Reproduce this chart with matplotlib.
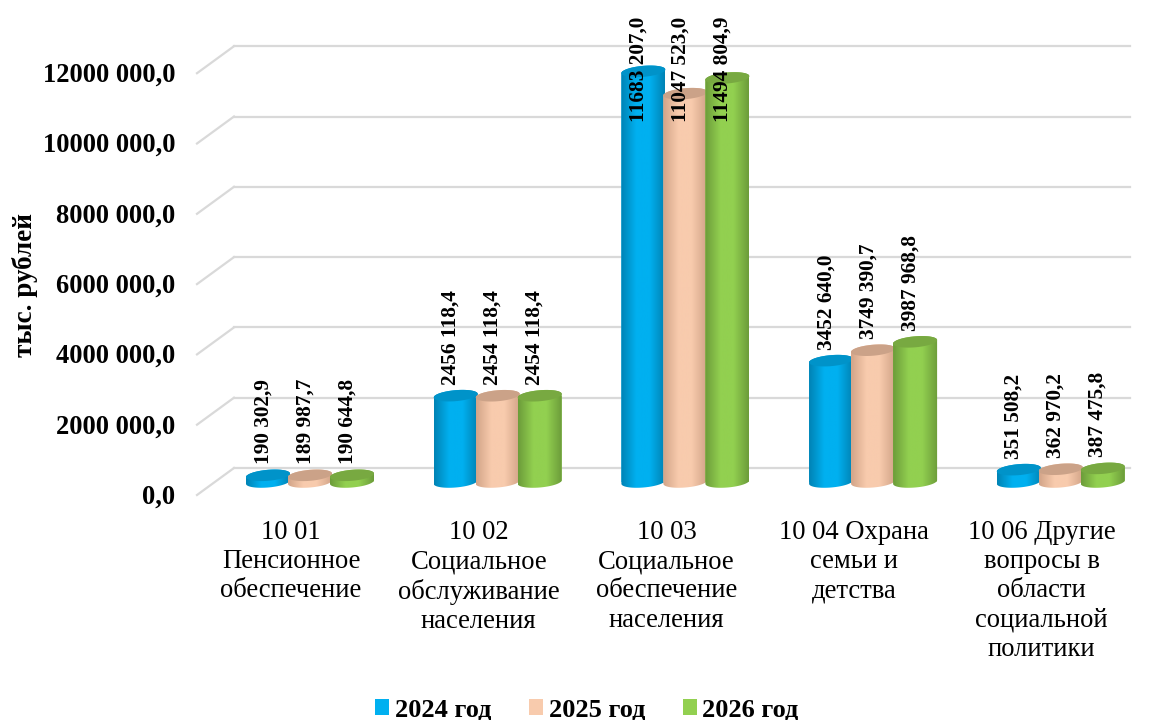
import numpy as np
import matplotlib
matplotlib.use("Agg")
import matplotlib.pyplot as plt
from matplotlib.colors import LinearSegmentedColormap
from matplotlib.patches import Patch, PathPatch, Polygon
from matplotlib.path import Path
from matplotlib.transforms import Affine2D

plt.rcParams["font.family"] = ["Liberation Serif", "DejaVu Serif"]

# Data
categories = [
    "10 01\nПенсионное\nобеспечение",
    "10 02\nСоциальное\nобслуживание\nнаселения",
    "10 03\nСоциальное\nобеспечение\nнаселения",
    "10 04 Охрана\nсемьи и\nдетства",
    "10 06 Другие\nвопросы в\nобласти\nсоциальной\nполитики",
]
years = ["2024 год", "2025 год", "2026 год"]
values_2024 = [190302.9, 2456118.4, 11683207.0, 3452640.0, 351508.2]
values_2025 = [189987.7, 2454118.4, 11047523.0, 3749390.7, 362970.2]
values_2026 = [190644.8, 2454118.4, 11494804.9, 3987968.8, 387475.8]
labels_2024 = ["190 302,9", "2456 118,4", "11683 207,0", "3452 640,0", "351 508,2"]
labels_2025 = ["189 987,7", "2454 118,4", "11047 523,0", "3749 390,7", "362 970,2"]
labels_2026 = ["190 644,8", "2454 118,4", "11494 804,9", "3987 968,8", "387 475,8"]
y_ticks = [0, 2000000, 4000000, 6000000, 8000000, 10000000, 12000000]
y_tick_labels = ["0,0", "2000 000,0", "4000 000,0", "6000 000,0", "8000 000,0",
                 "10000 000,0", "12000 000,0"]

# Colours: middle of the cylinder, its sides, its top
colors = ["#00B0F0", "#F8CBAD", "#92D050"]
edge_colors = ["#0083B4", "#D2A488", "#6C9C3A"]
top_colors = ["#0093C9", "#CBA288", "#78A941"]

W, H = 1163, 720
fig = plt.figure(figsize=(W / 100, H / 100), dpi=100)

# axes laid out so 0 sits at the bar bases and groups are 187.7 px apart
group_px = 187.7
y_px_per_unit = 35.15e-6
y_min, y_max = -500000, 13500000
ax_left = 310 - group_px / 2
ax_h = (y_max - y_min) * y_px_per_unit
ax_bottom = H - 482 + y_min * y_px_per_unit
ax = fig.add_axes([ax_left / W, ax_bottom / H, 5 * group_px / W, ax_h / H])
ax.set_xlim(-0.5, 4.5)
ax.set_ylim(y_min, y_max)
ax.patch.set_visible(False)
for s in ax.spines.values():
    s.set_visible(False)
ax.set_autoscale_on(False)


def x_frac(px):
    return (px - ax_left) / (5 * group_px)


# back wall gridlines and the diagonal down to the front edge
yaxis_tr = ax.get_yaxis_transform()
back_tr = yaxis_tr + Affine2D().translate(0, 14)
front_tr = yaxis_tr + Affine2D().translate(0, -13)
grid_color = "#D9D9D9"
for v in y_ticks:
    ax.plot([x_frac(234), x_frac(1130)], [v, v], color=grid_color, lw=1.6,
            transform=back_tr, clip_on=False, zorder=1)
    p0 = back_tr.transform((x_frac(234), v))
    p1 = front_tr.transform((x_frac(197), v))
    ax.plot([p0[0], p1[0]], [p0[1], p1[1]], color=grid_color, lw=1.6,
            transform=None, clip_on=False, zorder=1)

# cylinders
bar_w = 44 / group_px
offsets = [-42 / group_px, 0, 42 / group_px]
ry = 5.5 / y_px_per_unit
tilt = 1.8 / y_px_per_unit
t = np.linspace(0, 2 * np.pi, 73)
z = 3
for s, vals in enumerate([values_2024, values_2025, values_2026]):
    cmap = LinearSegmentedColormap.from_list(
        "c%d" % s,
        [(0, edge_colors[s]), (0.35, colors[s]), (0.65, colors[s]), (1, edge_colors[s])],
    )
    for i, v in enumerate(vals):
        cx = i + offsets[s]
        a = bar_w / 2
        low = np.linspace(np.pi, 2 * np.pi, 37)
        up = np.linspace(0, np.pi, 37)
        bx = np.concatenate([cx + a * np.cos(low), cx + a * np.cos(up)])
        by = np.concatenate([ry * np.sin(low) + tilt * np.cos(low),
                             v + ry * np.sin(up) + tilt * np.cos(up)])
        body = PathPatch(Path(np.column_stack([bx, by]), closed=False),
                         transform=ax.transData, fc="none", ec="none")
        ax.add_patch(body)
        bar = ax.bar(cx, v, bar_w, color=colors[s], zorder=z)[0]
        bar.set_clip_path(body)
        img = ax.imshow(np.linspace(0, 1, 128)[None, :], cmap=cmap, aspect="auto",
                        extent=(cx - a, cx + a, -ry - tilt, v + ry + tilt),
                        zorder=z + 0.1)
        img.set_clip_path(body)
        top = Polygon(np.column_stack([cx + a * np.cos(t),
                                       v + ry * np.sin(t) + tilt * np.cos(t)]),
                      fc=top_colors[s], ec="none", zorder=z + 0.2)
        ax.add_patch(top)
        z += 1
ax.set_xlim(-0.5, 4.5)
ax.set_ylim(y_min, y_max)

# value labels; the tall middle group has its labels pulled down over the bars
inside_label_y = 10240000
for s, (vals, labs) in enumerate(zip([values_2024, values_2025, values_2026],
                                     [labels_2024, labels_2025, labels_2026])):
    for i, (v, lab) in enumerate(zip(vals, labs)):
        cx = i + offsets[s]
        y = inside_label_y if i == 2 else v
        ax.annotate(lab, (cx, y), xytext=(-3.5, 0 if i == 2 else 8),
                    textcoords="offset points", rotation=90, ha="center",
                    va="bottom", fontsize=15.3, fontweight="bold", zorder=100,
                    annotation_clip=False)

# axis ticks
ax.set_yticks(y_ticks)
ax.set_yticklabels(y_tick_labels, fontsize=19.1, fontweight="bold")
ax.tick_params(axis="y", length=0, pad=29.5)
for lab in ax.get_yticklabels():
    lab.set_transform(lab.get_transform() + Affine2D().translate(0, -12))

ax.set_xticks(range(len(categories)))
ax.set_xticklabels(categories, fontsize=19.2, linespacing=1.22)
ax.tick_params(axis="x", length=0, pad=14.8)
for lab in ax.get_xticklabels():
    lab.set_transform(lab.get_transform() + Affine2D().translate(-19, 0))

ax.set_ylabel("тыс. рублей", fontsize=19.5, fontweight="bold", va="center")
ax.yaxis.set_label_coords((25 - ax_left) / (5 * group_px),
                          (H - 285 - ax_bottom) / ax_h)

# legend
handles = [Patch(fc=c, ec="none", label=y) for c, y in zip(colors, years)]
fig.legend(handles=handles, loc="center", bbox_to_anchor=(587 / W, 1 - 710 / H),
           ncol=3, frameon=False, handlelength=0.53, handleheight=0.53,
           handletextpad=0.2, columnspacing=1.45, borderpad=0,
           prop={"size": 19, "weight": "bold"})

fig.savefig("out.png", dpi=100, facecolor="white")
